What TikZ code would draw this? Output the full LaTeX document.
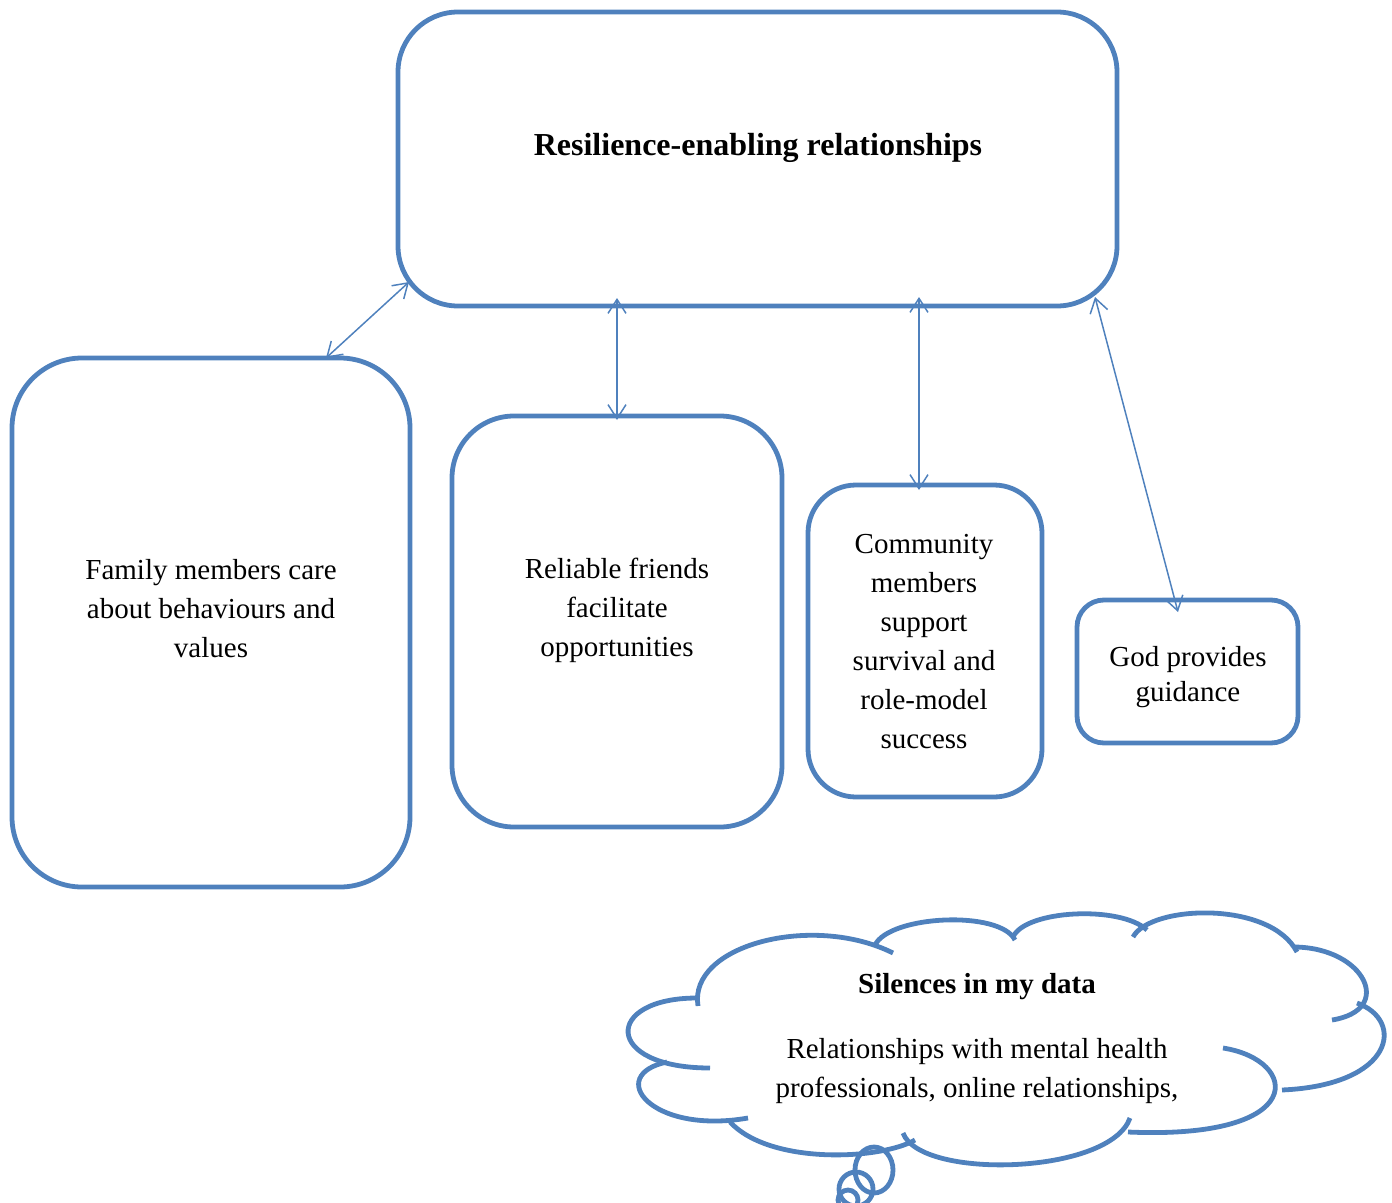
\documentclass[tikz,border=0pt]{standalone}
\usepackage{fontspec}
\setmainfont{Liberation Serif}
\usetikzlibrary{arrows.meta}
\definecolor{acc}{RGB}{79,129,189}
\begin{document}
\begin{tikzpicture}[x=1pt,y=-1pt,
 rbox/.style={draw=acc,line width=4.8pt,outer sep=0pt,inner sep=0pt},
 arr/.style={draw=acc,line width=1.5pt,{Straight Barb[length=14pt,width=18pt]}-{Straight Barb[length=14pt,width=18pt]}},
 txt/.style={align=center,inner sep=0pt,font=\fontsize{29}{39}\selectfont},
 cl/.style={draw=acc,line width=4.8pt}]
\useasboundingbox (0,0) rectangle (1392,1202);
% boxes
\node[rbox,minimum width=719pt,minimum height=294pt,rounded corners=60pt] (top) at (757.5,159) {};
\node[rbox,minimum width=398pt,minimum height=529pt,rounded corners=70pt] (fam) at (211,622.5) {};
\node[rbox,minimum width=330pt,minimum height=411pt,rounded corners=62pt] (rel) at (617,621.5) {};
\node[rbox,minimum width=234pt,minimum height=312pt,rounded corners=48pt] (com) at (925,641) {};
\node[rbox,minimum width=221pt,minimum height=143pt,rounded corners=27pt] (god) at (1187.5,671.5) {};
% texts
\node[txt,font=\fontsize{32}{39}\selectfont\bfseries] (toptxt) at (758,148) {Resilience-enabling relationships};
\node[txt] (famtxt) at (211,609) {Family members care\\about behaviours and\\values};
\node[txt] (reltxt) at (617,610) {Reliable friends\\facilitate\\opportunities};
\node[txt] (comtxt) at (924,642) {Community\\members\\support\\survival and\\role-model\\success};
\node[txt,font=\fontsize{29}{35}\selectfont] (godtxt) at (1188,677) {God provides\\guidance};
% connectors
\draw[arr] ([xshift=115pt]fam.north) -- ([xshift=11pt,yshift=24pt]top.south west);
\draw[arr] ([xshift=-140.5pt,yshift=8pt]top.south) -- ([yshift=-4pt]rel.north);
\draw[arr] ([xshift=161.5pt,yshift=9pt]top.south) -- ([xshift=-6pt,yshift=-5pt]com.north);
\draw[arr] ([xshift=337.5pt,yshift=9pt]top.south) -- ([xshift=-9.5pt,yshift=-12pt]god.north);
% cloud
\draw[cl] (697,998) .. controls (603,998) and (603,1068) .. (710,1068);
\draw[cl] (698,1006) .. controls (688,945) and (813,913) .. (893,953);
\draw[cl] (875,945) .. controls (890,915) and (1000,910) .. (1015,940);
\draw[cl] (1013,937) .. controls (1025,910) and (1120,905) .. (1147,930);
\draw[cl] (1133,937) .. controls (1150,905) and (1270,900) .. (1297,952);
\draw[cl] (1295,947) .. controls (1365,948) and (1395,1010) .. (1332,1020);
\draw[cl] (1357,1003) .. controls (1405,1020) and (1395,1085) .. (1282,1090);
\draw[cl] (1223,1048) .. controls (1300,1060) and (1310,1140) .. (1128,1132);
\draw[cl] (1130,1118) .. controls (1110,1175) and (920,1180) .. (903,1133);
\draw[cl] (915,1140) .. controls (880,1160) and (770,1165) .. (730,1122);
\draw[cl] (748,1118) .. controls (650,1135) and (605,1075) .. (667,1062);
\draw[cl] (874,1170) ellipse[x radius=19,y radius=23];
\draw[cl] (856,1189) circle[radius=17];
\draw[cl] (848,1200) circle[radius=10];
\node[txt,font=\fontsize{29}{39}\selectfont\bfseries] (cloudtitle) at (977,987) {Silences in my data};
\node[txt] (cloudtxt) at (977,1071.5) {Relationships with mental health\\professionals, online relationships,};
\end{tikzpicture}
\end{document}
